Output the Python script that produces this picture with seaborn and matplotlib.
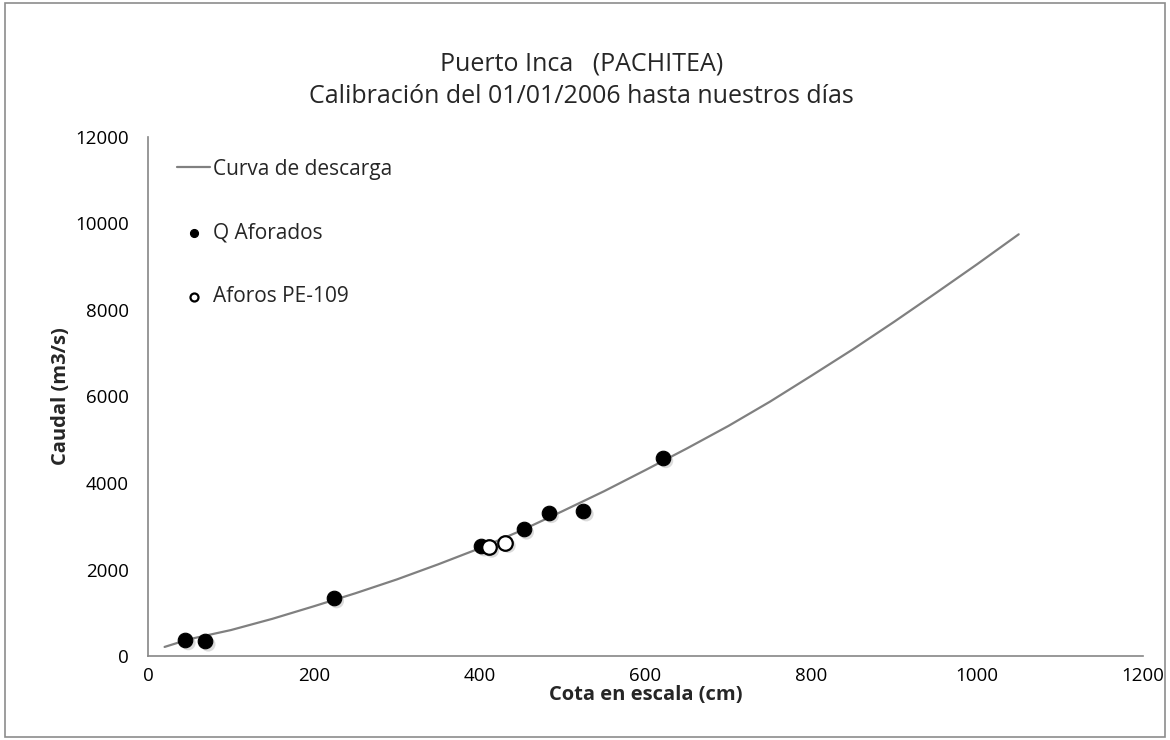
import matplotlib
matplotlib.use("Agg")
import matplotlib.pyplot as plt
import matplotlib.transforms as mtransforms
from matplotlib.patches import Rectangle
import seaborn as sns
import pandas as pd

# curva de descarga
cota_curva = [20, 50, 100, 150, 200, 250, 300, 350, 400, 450, 500, 550,
              600, 650, 700, 750, 800, 850, 900, 950, 1000, 1050]
caudal_curva = [210, 390, 600, 860, 1150, 1450, 1770, 2120, 2490, 2900, 3350, 3810,
                4300, 4800, 5320, 5880, 6480, 7090, 7730, 8390, 9060, 9750]

# Q aforados
cota_aforo = [45, 69, 224, 402, 453, 483, 525, 621]
caudal_aforo = [370, 340, 1340, 2540, 2930, 3310, 3350, 4580]

# Aforos PE-109
cota_pe = [411, 431]
caudal_pe = [2510, 2620]

curva = pd.DataFrame({'cota': cota_curva, 'caudal': caudal_curva})
aforos = pd.DataFrame({'cota': cota_aforo, 'caudal': caudal_aforo})
pe109 = pd.DataFrame({'cota': cota_pe, 'caudal': caudal_pe})

sns.set_style('white')
plt.rcParams['font.family'] = ['Open Sans', 'DejaVu Sans']

fig = plt.figure(figsize=(11.7, 7.4), dpi=100)
ax = fig.add_axes([0.1265, 0.1135, 0.8505, 0.7014])

# borde del área del gráfico
fig.patches.append(Rectangle((0.004, 0.004), 0.992, 0.992, transform=fig.transFigure,
                             fill=False, edgecolor='#8c8c8c', linewidth=1.2))

sns.lineplot(data=curva, x='cota', y='caudal', ax=ax, color='#808080', linewidth=1.6,
             label='Curva de descarga', sort=True)

# sombras de los puntos
shadow = mtransforms.offset_copy(ax.transData, fig=fig, x=3, y=-3, units='dots')
ax.scatter(aforos['cota'], aforos['caudal'], s=110, color='#9a9a9a', alpha=0.35,
           edgecolors='none', transform=shadow, zorder=2)
ax.scatter(pe109['cota'], pe109['caudal'], s=110, color='#9a9a9a', alpha=0.35,
           edgecolors='none', transform=shadow, zorder=2)

sns.scatterplot(data=aforos, x='cota', y='caudal', ax=ax, color='black', s=110,
                edgecolor='black', linewidth=0.8, label='Q Aforados', zorder=3)
sns.scatterplot(data=pe109, x='cota', y='caudal', ax=ax, color='white', s=110,
                edgecolor='black', linewidth=1.6, label='Aforos PE-109', zorder=4)

ax.set_xlim(0, 1200)
ax.set_ylim(0, 12000)
ax.set_xticks(range(0, 1201, 200))
ax.set_yticks(range(0, 12001, 2000))
ax.tick_params(axis='both', labelsize=13.5, length=5, width=1, color='#868686',
               direction='out', labelcolor='black')
ax.tick_params(axis='x', pad=3)
ax.tick_params(axis='y', pad=9)
for side in ['top', 'right']:
    ax.spines[side].set_visible(False)
for side in ['left', 'bottom']:
    ax.spines[side].set_color('#868686')
    ax.spines[side].set_linewidth(1.2)

ax.set_xlabel('Cota en escala (cm)', fontsize=14.5, fontweight='bold', labelpad=0)
ax.set_ylabel('Caudal (m3/s)', fontsize=14.5, fontweight='bold', labelpad=3)

fig.text(0.497, 0.914, 'Puerto Inca   (PACHITEA)', ha='center', va='center', fontsize=18)
fig.text(0.497, 0.869, 'Calibración del 01/01/2006 hasta nuestros días', ha='center',
         va='center', fontsize=18)

leg = ax.legend(loc='upper left', bbox_to_anchor=(0.029, 0.958), frameon=False,
                fontsize=15, labelspacing=2.05, handlelength=1.6, handletextpad=0.15,
                borderpad=0, borderaxespad=0, markerscale=0.55)

fig.savefig('out.png', dpi=100)
